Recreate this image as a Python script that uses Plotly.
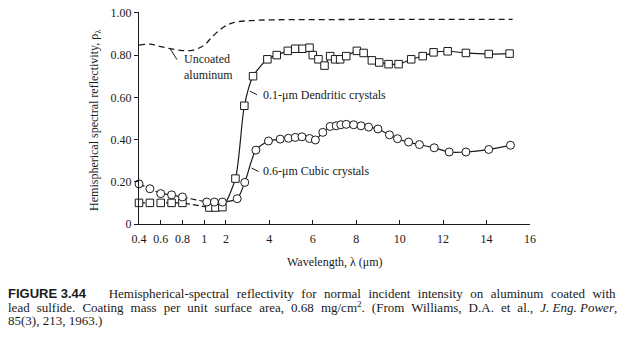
import numpy as np
import plotly.graph_objects as go

# ---------------- data (wavelength in micrometres, reflectivity) ----------------
dend_x = [0.4, 0.5, 0.6, 0.7, 0.8, 1.24, 1.52, 1.84, 2.44, 2.85, 3.25, 3.91, 4.34, 4.85,
          5.19, 5.53, 5.85, 6.0, 6.26, 6.54, 6.80, 7.03, 7.26, 7.54, 8.03, 8.34, 8.72,
          9.06, 9.49, 9.95, 10.53, 11.06, 11.56, 12.21, 13.05, 14.1, 15.06]
dend_y = [0.10, 0.10, 0.10, 0.10, 0.10, 0.078, 0.078, 0.08, 0.215, 0.56, 0.70, 0.78, 0.80, 0.82,
          0.83, 0.83, 0.835, 0.80, 0.78, 0.75, 0.795, 0.78, 0.78, 0.795, 0.82, 0.81, 0.775,
          0.765, 0.757, 0.757, 0.78, 0.795, 0.813, 0.818, 0.81, 0.805, 0.807]

cub_x = [0.4, 0.5, 0.6, 0.7, 0.8, 1.12, 1.47, 1.84, 2.52, 2.87, 3.38, 3.96, 4.5, 4.88,
         5.19, 5.5, 5.85, 6.12, 6.46, 6.80, 7.08, 7.29, 7.54, 7.88, 8.22, 8.57, 9.0,
         9.53, 9.90, 10.41, 10.91, 11.59, 12.28, 13.05, 14.1, 15.1]
cub_y = [0.19, 0.167, 0.144, 0.138, 0.128, 0.104, 0.104, 0.104, 0.12, 0.197, 0.35, 0.393, 0.402, 0.406,
         0.41, 0.413, 0.405, 0.398, 0.434, 0.462, 0.465, 0.47, 0.472, 0.47, 0.465, 0.459, 0.45,
         0.422, 0.404, 0.388, 0.376, 0.361, 0.341, 0.341, 0.353, 0.373]

alu_x = [0.4, 0.5, 0.6, 0.7, 0.8, 0.9, 1.0, 1.4, 1.9, 2.35, 3.1, 4.2, 6.0, 10.0, 15.2]
alu_y = [0.847, 0.852, 0.84, 0.829, 0.821, 0.824, 0.847, 0.89, 0.933, 0.954, 0.963, 0.967, 0.968, 0.969, 0.969]

x_tick_vals = [0.4, 0.6, 0.8, 1, 2, 4, 6, 8, 10, 12, 14, 16]
x_tick_text = ["0.4", "0.6", "0.8", "1", "2", "4", "6", "8", "10", "12", "14", "16"]
y_tick_vals = [0, 0.2, 0.4, 0.6, 0.8, 1.0]
y_tick_text = ["0", "0.20", "0.40", "0.60", "0.80", "1.00"]

# ---------------- piecewise axis: 0.4-1 expanded 5x ----------------
def to_u(x):
    x = np.asarray(x, dtype=float)
    return np.where(x < 1, 1 + (x - 1) * 5, x)

W, H = 624, 341
L, R, T, B = 139, 94, 6, 117
PW, PH = W - L - R, H - T - B
YMAX = 1.004

def px(xp):
    return (xp - L) / PW

def py(yp):
    return (H - B - yp) / PH

SERIF = "Liberation Serif, Times New Roman, serif"
BLACK = "#1a1a1a"

fig = go.Figure()

def dashed_then_solid(xs, ys, split):
    u = to_u(xs)
    ys = np.asarray(ys)
    fig.add_trace(go.Scatter(x=u[:split + 1], y=ys[:split + 1], mode="lines",
                             line=dict(color=BLACK, width=1.2, dash="6px,3px"),
                             showlegend=False, hoverinfo="skip"))
    fig.add_trace(go.Scatter(x=u[split:], y=ys[split:], mode="lines",
                             line=dict(color=BLACK, width=1.2, shape="spline", smoothing=0.7),
                             showlegend=False, hoverinfo="skip"))

# uncoated aluminum
fig.add_trace(go.Scatter(x=to_u(alu_x), y=alu_y, mode="lines",
                         line=dict(color=BLACK, width=1.3, dash="6px,4px", shape="spline", smoothing=1.0),
                         showlegend=False, hoverinfo="skip"))

dashed_then_solid(dend_x, dend_y, 5)
dashed_then_solid(cub_x, cub_y, 5)

fig.add_trace(go.Scatter(x=to_u(dend_x), y=dend_y, mode="markers", cliponaxis=False,
                         marker=dict(symbol="square", size=7.5, color="white",
                                     line=dict(color=BLACK, width=1)),
                         showlegend=False))
fig.add_trace(go.Scatter(x=to_u(cub_x), y=cub_y, mode="markers", cliponaxis=False,
                         marker=dict(symbol="circle", size=8, color="white",
                                     line=dict(color=BLACK, width=1)),
                         showlegend=False))

fig.update_xaxes(range=[-2, 16], tickvals=list(to_u(x_tick_vals)), ticktext=x_tick_text,
                 showline=True, linecolor=BLACK, linewidth=1.2, ticks="inside", ticklen=4,
                 tickcolor=BLACK, showgrid=False, zeroline=False, ticklabelstandoff=3,
                 tickfont=dict(family=SERIF, size=12, color=BLACK))
fig.update_yaxes(range=[0, YMAX], tickvals=y_tick_vals, ticktext=y_tick_text,
                 showline=True, linecolor=BLACK, linewidth=1.2, ticks="outside", ticklen=4,
                 tickcolor=BLACK, showgrid=False, zeroline=False,
                 tickfont=dict(family=SERIF, size=12, color=BLACK))

ann = []
def text(xp, yp, s, size=12, xanchor="left", angle=0, align="left", family=SERIF):
    ann.append(dict(x=px(xp), y=py(yp), xref="paper", yref="paper", text=s, showarrow=False,
                    xanchor=xanchor, yanchor="middle", align=align, textangle=angle,
                    font=dict(family=family, size=size, color=BLACK)))

text(182, 62.5, "Uncoated<br>aluminum")
text(261, 91.5, "0.1-μm Dendritic crystals")
text(261, 169.5, "0.6-μm Cubic crystals")
text(335, 263, "Wavelength, λ (μm)", xanchor="center", align="center")
text(95, 117, "Hemispherical spectral reflectivity, ρ<sub>λ</sub>", xanchor="center", angle=-90, align="center")

text(6, 295.5, '<span style="font-family:Liberation Sans, Arial, sans-serif"><b>FIGURE 3.44</b></span>'
     '<span style="word-spacing:4.3px">   Hemispherical-spectral reflectivity for normal incident intensity on aluminum coated with</span>',
     size=13)
text(6, 309.5, '<span style="word-spacing:3.8px">lead sulfide. Coating mass per unit surface area, 0.68 mg/cm</span><sup>2</sup>'
     '<span style="word-spacing:3.8px">. (From Williams, D.A. et al., </span><i>J. Eng. Power</i>,',
     size=13)
text(6, 323.5, '85(3), 213, 1963.)', size=13)

shapes = []
def seg(x0, y0, x1, y1):
    shapes.append(dict(type="line", xref="paper", yref="paper", x0=px(x0), y0=py(y0),
                       x1=px(x1), y1=py(y1), line=dict(color=BLACK, width=1)))

seg(170, 43.5, 177, 55)
seg(250, 87.5, 257, 91)
seg(251.5, 166.5, 258.5, 170)

fig.update_layout(width=W, height=H, autosize=False,
                  margin=dict(l=L, r=R, t=T, b=B, pad=0),
                  paper_bgcolor="white", plot_bgcolor="white",
                  annotations=ann, shapes=shapes, showlegend=False)

fig.write_html("out.html")
